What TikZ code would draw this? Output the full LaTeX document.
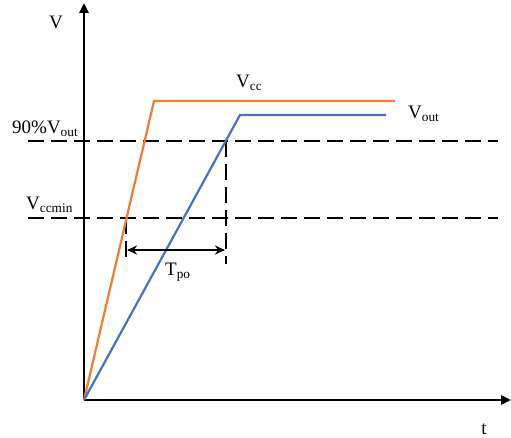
\documentclass[tikz,border=0pt]{standalone}
\usepackage{fontspec}
\setmainfont{Liberation Serif}
\usetikzlibrary{arrows.meta}
\definecolor{vcccol}{RGB}{237,125,49}
\definecolor{voutcol}{RGB}{68,114,196}
\begin{document}
\begin{tikzpicture}[x=1pt,y=-1pt,
  axis/.style={line width=2.8pt,-{Triangle[length=10pt,width=9pt]}},
  sig/.style={line width=2.2pt},
  dashln/.style={line width=2.9pt,dash pattern=on 16pt off 7pt},
  lbl/.style={inner sep=0pt,font=\fontsize{19}{21}\selectfont}]
\useasboundingbox (0,0) rectangle (511,438);
% key points
\coordinate (O) at (84,400);
\coordinate (ytop) at (84,3);
\coordinate (xend) at (511,400);
\coordinate (c1) at (154,101);
\coordinate (c2) at (395,101);
\coordinate (b1) at (240,115);
\coordinate (b2) at (386,115);
\coordinate (h1a) at (28,141);
\coordinate (h1b) at (498,141);
\coordinate (h2a) at (28,218);
\coordinate (h2b) at (498,218);
\coordinate (v1a) at (226,141);
\coordinate (v1b) at (226,264);
\coordinate (v2a) at (126,218);
\coordinate (v2b) at (126,264);
\coordinate (ta) at (127,250);
\coordinate (tb) at (225,250);
% axes
\draw[axis] (O) -- (ytop);
\draw[axis] (O) -- (xend);
% dashed
\draw[dashln] (h1a) -- (h1b);
\draw[dashln] (h2a) -- (h2b);
\draw[dashln] (v1a) -- (v1b);
\draw[dashln] (v2a) -- (v2b);
% signals
\draw[sig,vcccol] (O) -- (c1) -- (c2);
\draw[sig,voutcol] (O) -- (b1) -- (b2);
% Tpo arrow
\draw[line width=1.6pt,{Stealth[length=10pt,width=9pt]}-{Stealth[length=10pt,width=9pt]}] (ta) -- (tb);
% labels
\node[lbl] (lV) at (56,22) {V};
\node[lbl] (lt) at (484,429) {t};
\node[lbl,anchor=base west] (l90) at (12,134) {90\%V\textsubscript{out}};
\node[lbl,anchor=base west] (lvcm) at (26,210) {V\textsubscript{ccmin}};
\node[lbl,anchor=base west] (lvcc) at (236,88) {V\textsubscript{cc}};
\node[lbl,anchor=base west] (lvout) at (408,119) {V\textsubscript{out}};
\node[lbl,anchor=base west] (ltpo) at (165,276) {T\textsubscript{po}};
\end{tikzpicture}
\end{document}
